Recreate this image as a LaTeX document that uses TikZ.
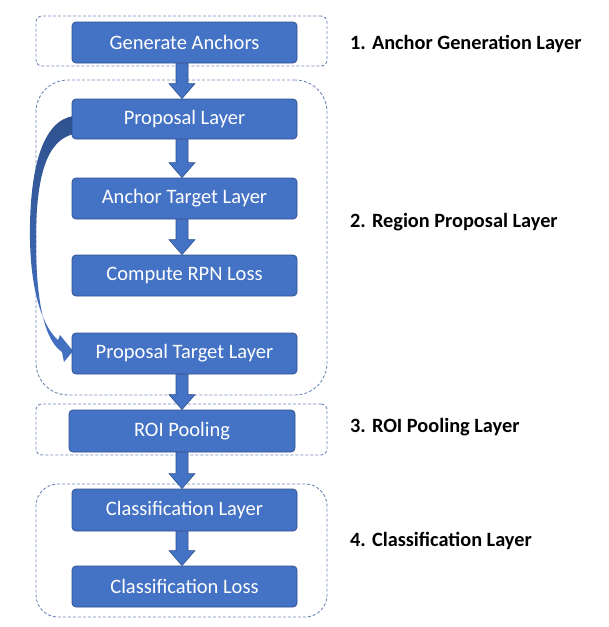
\documentclass[tikz,border=0pt]{standalone}
\usepackage{fontspec}
\setmainfont{Carlito}
\usetikzlibrary{calc}
\definecolor{boxblue}{HTML}{4472C4}
\definecolor{boxedge}{HTML}{2F528F}
\definecolor{dashcol}{HTML}{7088B8}
\tikzset{
  stepbox/.style={fill=boxblue, draw=boxedge, line width=0.8pt, rounded corners=4pt,
    minimum width=225pt, minimum height=41pt, inner sep=0pt, text=white,
    font=\fontsize{20.5}{24}\selectfont},
  grp/.style={draw=dashcol, line width=0.9pt, dash pattern=on 3pt off 2pt,
    minimum width=291pt, inner sep=0pt},
  lbl/.style={anchor=west, font=\fontsize{20.3}{24}\selectfont\bfseries, text=black, inner sep=0pt},
  blockarr/.style={fill=boxblue, draw=boxedge, line width=0.6pt}
}
\newcommand{\blockarrow}[2]{%
  \path[blockarr] let \p1=(#1.south), \p2=(#2.north) in
    (176pt,\y1) -- (176pt,\y2+15pt) -- (169pt,\y2+15pt) -- (182pt,\y2)
    -- (195pt,\y2+15pt) -- (188pt,\y2+15pt) -- (188pt,\y1) -- cycle;}
\begin{document}
\begin{tikzpicture}[x=1pt,y=-1pt]
\useasboundingbox (0,0) rectangle (609,627);
% groups
\node[grp, minimum height=50pt, rounded corners=6pt] (g1) at (181.5,41) {};
\node[grp, minimum height=315pt, rounded corners=32pt] (g2) at (181.5,237.5) {};
\node[grp, minimum height=51pt, rounded corners=6pt] (g3) at (181.5,429.5) {};
\node[grp, minimum height=133pt, rounded corners=22pt] (g4) at (181.5,550.5) {};
% curved arrow (drawn behind boxes)
\path[shading=axis, top color=boxedge, bottom color=boxblue, shading angle=0]
  (74,116) .. controls (42,120) and (29,170) .. (30,240)
  .. controls (31,295) and (44,328) .. (58,340)
  -- (60,335) -- (73,351) -- (64,362) -- (62,352)
  .. controls (44,340) and (36,300) .. (36,240)
  .. controls (36,178) and (46,140) .. (74,134) -- cycle;
% boxes
\node[stepbox] (gen) at (184.5,42.5) {Generate Anchors};
\node[stepbox, minimum height=40pt] (prop) at (184.5,119) {Proposal Layer};
\node[stepbox] (atl) at (184.5,198.5) {Anchor Target Layer};
\node[stepbox] (rpn) at (184.5,275.5) {Compute RPN Loss};
\node[stepbox] (ptl) at (184.5,353.5) {Proposal Target Layer};
\node[stepbox, minimum width=226pt, minimum height=42pt] (roi) at (182,431) {ROI Pooling};
\node[stepbox, minimum height=42pt] (cls) at (184.5,510) {Classification Layer};
\node[stepbox] (loss) at (184.5,586.5) {Classification Loss};
% arrows
\blockarrow{gen}{prop}
\blockarrow{prop}{atl}
\blockarrow{atl}{rpn}
\blockarrow{ptl}{roi}
\blockarrow{roi}{cls}
\blockarrow{cls}{loss}
% labels
\node[lbl] (l1) at (350,44) {1. Anchor Generation Layer};
\node[lbl] (l2) at (350,222) {2. Region Proposal Layer};
\node[lbl] (l3) at (350,427) {3. ROI Pooling Layer};
\node[lbl] (l4) at (350,541) {4. Classification Layer};
\end{tikzpicture}
\end{document}
